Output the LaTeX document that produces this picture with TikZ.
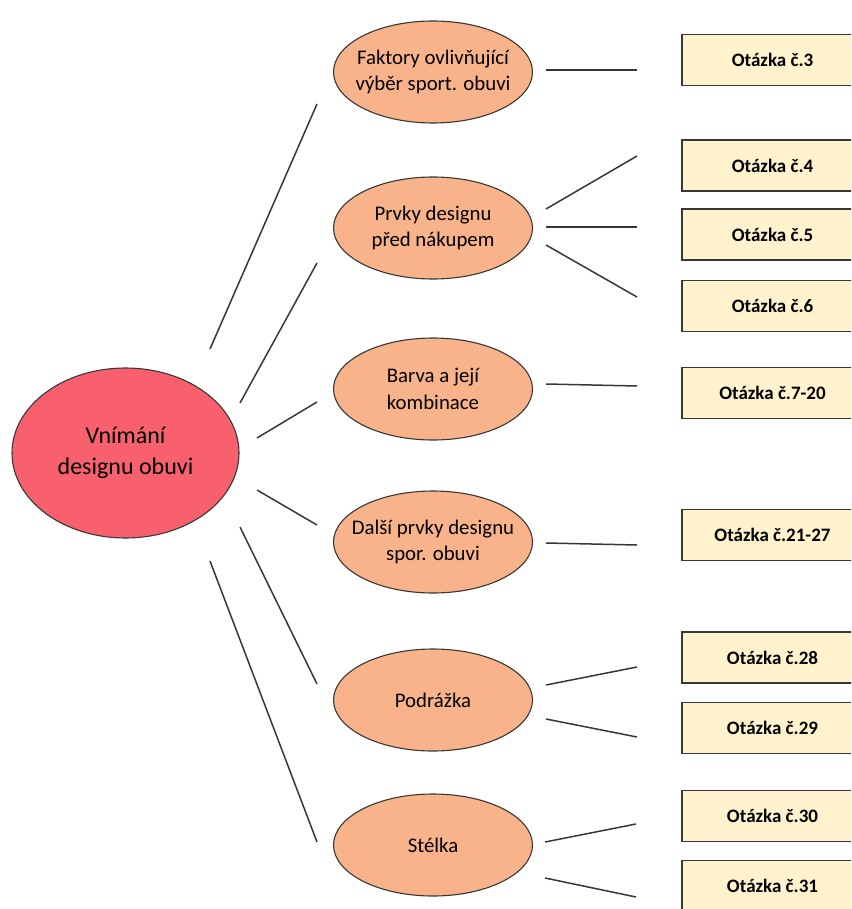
\documentclass[tikz,border=0pt]{standalone}
\usepackage{fontspec}
\setmainfont{Carlito}
\usetikzlibrary{shapes.geometric}
\definecolor{mainred}{RGB}{249,96,110}
\definecolor{suborange}{RGB}{248,179,138}
\definecolor{qbox}{RGB}{255,242,204}
\definecolor{edge}{RGB}{55,55,55}
\begin{document}
\begin{tikzpicture}[x=1pt,y=-1pt,
  mainell/.style={ellipse,draw=edge,line width=1.1pt,fill=mainred,minimum width=227pt,minimum height=170pt,inner sep=-30pt,align=center,font=\fontsize{24}{31}\selectfont},
  subell/.style={ellipse,draw=edge,line width=1.1pt,fill=suborange,minimum width=199pt,minimum height=102pt,inner sep=-30pt,align=center,font=\fontsize{20.8}{26.5}\selectfont},
  qnode/.style={rectangle,draw=edge,line width=1.3pt,fill=qbox,minimum width=181pt,minimum height=51pt,inner sep=0pt,font=\bfseries\fontsize{19}{23}\selectfont},
  conn/.style={draw=edge,line width=1.5pt}]
\clip (0,0) rectangle (851,909);
\useasboundingbox (0,0) rectangle (851,909);
% main
\node[mainell] (main) at (125.5,453) {Vnímání\\designu obuvi};
% sub ellipses
\node[subell] (s1) at (433,72) {Faktory ovlivňující\\výběr sport. obuvi};
\node[subell] (s2) at (433,228) {Prvky designu\\před nákupem};
\node[subell] (s3) at (433,389) {Barva a její\\kombinace};
\node[subell] (s4) at (433,542) {Další prvky designu\\spor. obuvi};
\node[subell] (s5) at (433,700) {Podrážka};
\node[subell] (s6) at (433,845) {Stélka};
% boxes
\node[qnode] (q3) at (772.5,60) {Otázka č.3};
\node[qnode] (q4) at (772.5,165.5) {Otázka č.4};
\node[qnode] (q5) at (772.5,234.5) {Otázka č.5};
\node[qnode] (q6) at (772.5,306) {Otázka č.6};
\node[qnode] (q7) at (772.5,393) {Otázka č.7-20};
\node[qnode] (q21) at (772.5,535) {Otázka č.21-27};
\node[qnode] (q28) at (772.5,657.5) {Otázka č.28};
\node[qnode] (q29) at (772.5,728) {Otázka č.29};
\node[qnode] (q30) at (772.5,816) {Otázka č.30};
\node[qnode] (q31) at (772.5,886) {Otázka č.31};
% connector end points
\coordinate (m1) at (210,349);  \coordinate (e1) at (317,104);
\coordinate (m2) at (240,403);  \coordinate (e2) at (317,263);
\coordinate (m3) at (257,438);  \coordinate (e3) at (317,402);
\coordinate (m4) at (257,490);  \coordinate (e4) at (317,525);
\coordinate (m5) at (240,527);  \coordinate (e5) at (317,684);
\coordinate (m6) at (210,561);  \coordinate (e6) at (317,842);
\coordinate (a3) at (546,70);   \coordinate (b3) at (637,70);
\coordinate (a4) at (546,209);  \coordinate (b4) at (637,156);
\coordinate (a5) at (546,227);  \coordinate (b5) at (637,227);
\coordinate (a6) at (546,245);  \coordinate (b6) at (637,297);
\coordinate (a7) at (546,384);  \coordinate (b7) at (637,386);
\coordinate (a21) at (546,543); \coordinate (b21) at (637,545);
\coordinate (a28) at (546,685); \coordinate (b28) at (637,667);
\coordinate (a29) at (546,719); \coordinate (b29) at (637,737);
\coordinate (a30) at (545,842); \coordinate (b30) at (636,824);
\coordinate (a31) at (545,878); \coordinate (b31) at (636,897);
% connectors
\foreach \i in {1,...,6} {\draw[conn] (m\i) -- (e\i);}
\foreach \i in {3,4,5,6,7,21,28,29,30,31} {\draw[conn] (a\i) -- (b\i);}
\end{tikzpicture}
\end{document}
